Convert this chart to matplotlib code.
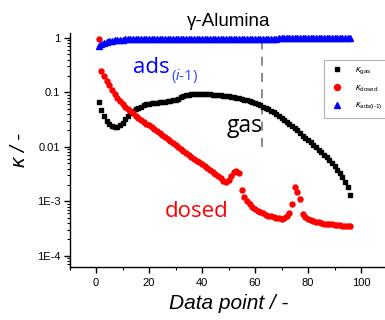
import numpy as np
import matplotlib
matplotlib.use("Agg")
import matplotlib.pyplot as plt
from matplotlib.ticker import LogLocator, NullFormatter, MultipleLocator

plt.rcParams["font.family"] = ["Liberation Sans", "DejaVu Sans"]
plt.rcParams["mathtext.fontset"] = "custom"
plt.rcParams["mathtext.rm"] = "Liberation Sans"
plt.rcParams["mathtext.it"] = "Liberation Sans:italic"
plt.rcParams["mathtext.bf"] = "Liberation Sans:bold"

# Data point index
points = np.arange(1, 97)

kappa_gas = [
    0.066, 0.048, 0.037, 0.030, 0.026, 0.024, 0.023, 0.023, 0.025, 0.028,
    0.032, 0.037, 0.041, 0.045, 0.049, 0.052, 0.055, 0.058, 0.060, 0.062,
    0.063, 0.064, 0.065, 0.066, 0.067, 0.068, 0.069, 0.070, 0.071, 0.072,
    0.076, 0.081, 0.086, 0.089, 0.091, 0.093, 0.094, 0.095, 0.095, 0.095,
    0.094, 0.093, 0.092, 0.091, 0.090, 0.089, 0.088, 0.087, 0.086, 0.085,
    0.083, 0.082, 0.080, 0.078, 0.076, 0.074, 0.072, 0.070, 0.067, 0.064,
    0.061, 0.058, 0.055, 0.052, 0.049, 0.046, 0.043, 0.040, 0.037, 0.034,
    0.031, 0.029, 0.026, 0.024, 0.022, 0.020, 0.018, 0.016, 0.0148, 0.0134,
    0.0121, 0.0109, 0.0098, 0.0088, 0.0079, 0.0071, 0.0064, 0.0057, 0.0050, 0.0044,
    0.0038, 0.0033, 0.0028, 0.0023, 0.0018, 0.0013,
]

kappa_dosed = [
    0.95, 0.25, 0.20, 0.165, 0.135, 0.11, 0.092, 0.080, 0.070, 0.062,
    0.055, 0.050, 0.045, 0.041, 0.0372, 0.0342, 0.0315, 0.0290, 0.0268, 0.0247,
    0.0227, 0.0209, 0.0193, 0.0178, 0.0164, 0.0151, 0.0139, 0.0128, 0.0118, 0.0109,
    0.0100, 0.0092, 0.0085, 0.0078, 0.0072, 0.0066, 0.0061, 0.0056, 0.0052, 0.0048,
    0.0044, 0.0041, 0.0037, 0.0035, 0.0032, 0.0029, 0.0027, 0.0024, 0.0023, 0.0025,
    0.0029, 0.0035, 0.0036, 0.0033, 0.0016, 0.00118, 0.00100, 0.00088, 0.00079, 0.00072,
    0.00067, 0.00063, 0.00060, 0.00057, 0.00055, 0.00053, 0.00051, 0.00050, 0.00049, 0.00048,
    0.00049, 0.00053, 0.00062, 0.00088, 0.0018, 0.0015, 0.0011, 0.00058, 0.00052, 0.00048,
    0.00045, 0.00043, 0.00042, 0.00041, 0.00040, 0.00039, 0.00039, 0.00038, 0.00038, 0.00037,
    0.00037, 0.00037, 0.00036, 0.00036, 0.00036, 0.00036,
]

kappa_ads = [
    0.70, 0.76, 0.80, 0.84, 0.86, 0.88, 0.90, 0.91, 0.92, 0.93,
    0.935, 0.94, 0.945, 0.95, 0.95, 0.955, 0.955, 0.96, 0.96, 0.96,
    0.96, 0.965, 0.965, 0.965, 0.965, 0.97, 0.97, 0.97, 0.97, 0.97,
    0.97, 0.97, 0.975, 0.975, 0.975, 0.975, 0.975, 0.975, 0.975, 0.975,
    0.975, 0.975, 0.975, 0.975, 0.975, 0.975, 0.975, 0.975, 0.975, 0.975,
    0.975, 0.975, 0.975, 0.975, 0.975, 0.975, 0.975, 0.975, 0.975, 0.975,
    0.975, 0.975, 0.975, 0.975, 0.975, 0.975, 0.975, 0.975, 0.98, 0.98,
    0.98, 0.98, 0.98, 0.98, 0.98, 0.98, 0.98, 0.98, 0.98, 0.98,
    0.98, 0.98, 0.98, 0.98, 0.98, 0.98, 0.98, 0.98, 0.98, 0.98,
    0.98, 0.98, 0.98, 0.98, 0.98, 0.98,
]

y_ticks = [1e-4, 1e-3, 1e-2, 1e-1, 1]
y_tick_labels = ["1E-4", "1E-3", "0.01", "0.1", "1"]
x_ticks = [0, 20, 40, 60, 80, 100]

divider_x = 62.5
divider_span = (0.01, 1.0)

fig = plt.figure(figsize=(3.85, 3.2), dpi=100)
ax = fig.add_axes([69.5 / 385, 52.7 / 320, 318.0 / 385, 234.3 / 320])
ax.set_yscale("log")
ax.set_xlim(-10, 110)
ax.set_ylim(10 ** -4.21, 10 ** 0.09)

ax.plot(points, kappa_gas, ls="none", marker="s", ms=2.9, color="black",
        mec="black", label=r"$\kappa_{\mathrm{gas}}$", clip_on=False, zorder=3)
ax.plot(points, kappa_dosed, ls="none", marker="o", ms=3.6, color="#ff0000",
        mec="#ff0000", label=r"$\kappa_{\mathrm{dosed}}$", clip_on=False, zorder=3)
ax.plot(points, kappa_ads, ls="none", marker="^", ms=4.0, color="#0000ff",
        mec="#0000ff", label=r"$\kappa_{\mathrm{ads(i\text{-}1)}}$", clip_on=False, zorder=3)

ax.plot([divider_x, divider_x], divider_span, ls=(0, (5, 4)), lw=1.3,
        color="#808080", zorder=2)

for side in ("top", "right"):
    ax.spines[side].set_visible(False)
for side in ("left", "bottom"):
    ax.spines[side].set_linewidth(1.0)

ax.set_yticks(y_ticks)
ax.set_yticklabels(y_tick_labels)
ax.yaxis.set_minor_locator(LogLocator(base=10, subs=np.arange(2, 10)))
ax.yaxis.set_minor_formatter(NullFormatter())
ax.set_xticks(x_ticks)
ax.xaxis.set_minor_locator(MultipleLocator(10))
ax.tick_params(axis="both", which="major", direction="out", length=4,
               width=1, labelsize=8, pad=2.5)
ax.tick_params(axis="x", which="major", pad=4)
ax.tick_params(axis="both", which="minor", direction="out", length=2.2, width=0.8)

ax.set_xlabel("Data point / -", fontsize=15, style="italic", labelpad=4)
ax.set_ylabel(r"$\kappa$ / -", fontsize=15, style="italic", labelpad=6)

ax.text(50.2, 10 ** 0.30, "γ-Alumina", fontsize=13.5, ha="center", va="center")

big = ["Open Sans", "DejaVu Sans"]
t_ads = ax.text(14, 10 ** -0.643, "ads", fontsize=16, color="#0000ff",
                family=big, va="baseline", ha="left")
ax.annotate(r"($\mathit{i}$-1)", xy=(1, 0), xycoords=t_ads, xytext=(0.8, -1.5),
            textcoords="offset points", fontsize=11, color="#3050ff",
            family=big, va="baseline", ha="left")

ax.text(49.4, 10 ** -1.733, "gas", fontsize=16.5, color="black",
        family=big, va="baseline", ha="left")
ax.text(26, 10 ** -3.285, "dosed", fontsize=16, color="#ff0000",
        family=big, va="baseline", ha="left")

leg = ax.legend(loc="upper left", bbox_to_anchor=(0.80, 0.885), fontsize=6.5,
                frameon=True, fancybox=False, edgecolor="#a0a0a0",
                handletextpad=1.0, borderpad=0.6, labelspacing=0.75,
                handlelength=1.8, markerscale=1.2, borderaxespad=0)
leg.get_frame().set_linewidth(0.8)

fig.savefig("out.png", dpi=100)
